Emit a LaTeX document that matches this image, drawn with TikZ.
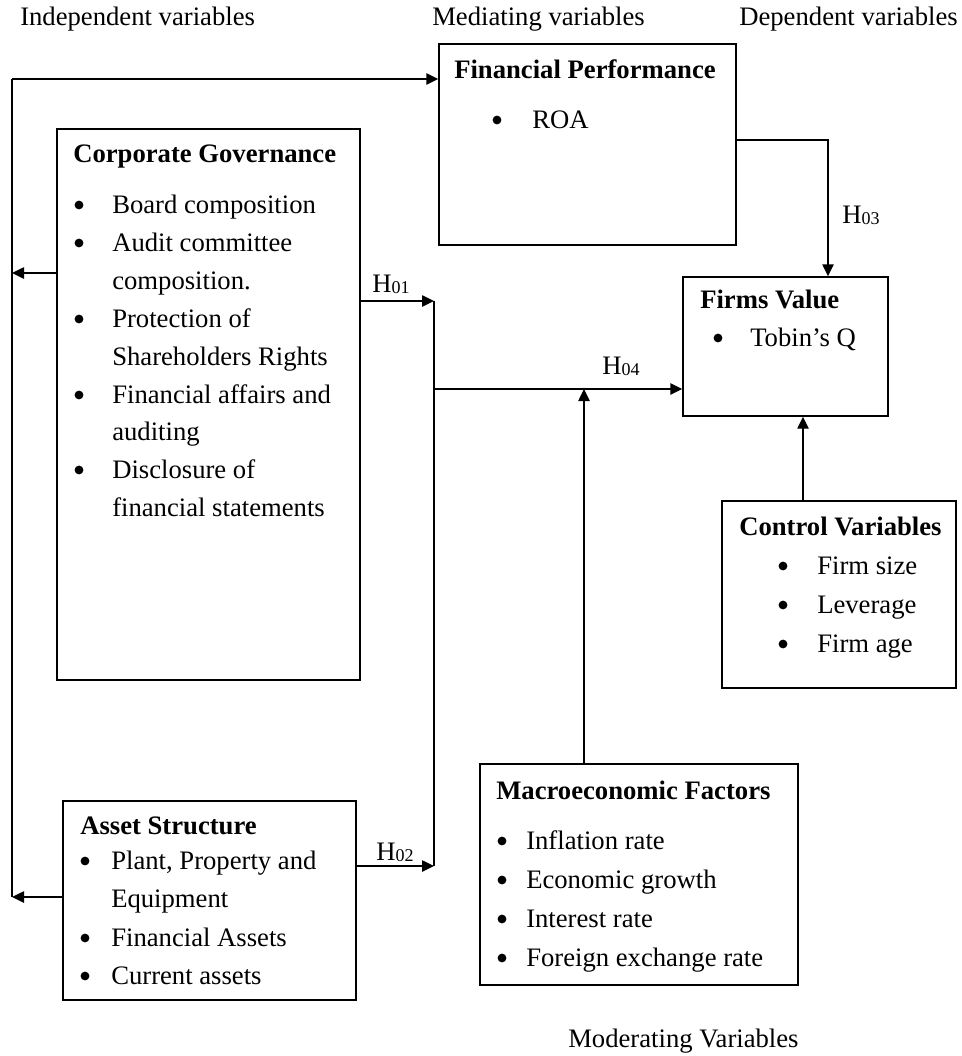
\documentclass[tikz,border=0pt]{standalone}
\usepackage{fontspec}
\setmainfont{Liberation Serif}
\usetikzlibrary{arrows.meta,fit}
\newcommand{\Hlab}[1]{H{\fontsize{13.5}{14}\selectfont\raisebox{-1pt}{#1}}}
\begin{document}
\begin{tikzpicture}[x=0.75pt,y=-0.75pt,
  font=\fontsize{20}{24}\selectfont,
  box/.style={draw, line width=1.1pt, inner sep=0pt, rectangle},
  txt/.style={anchor=base west, inner sep=0pt},
  ttl/.style={anchor=base west, inner sep=0pt, font=\fontsize{20}{24}\selectfont\bfseries},
  bul/.style={circle, fill, draw=none, inner sep=0pt, minimum size=6.6pt},
  conn/.style={line width=1.1pt},
  arr/.style={conn, -{Triangle[length=9pt,width=8.5pt]}}]
\useasboundingbox (0,0) rectangle (961,1056);

% boxes
\node[box, fit={(439,44) (736,245)}] (fp) {};
\node[box, fit={(57,129) (360,680)}] (cg) {};
\node[box, fit={(683,277) (888,416)}] (fv) {};
\node[box, fit={(722,501) (956,688)}] (cv) {};
\node[box, fit={(480,764) (798,985)}] (mf) {};
\node[box, fit={(63,801) (356,1000)}] (as) {};

% header labels
\node[txt] (lind) at (20,26) {Independent variables};
\node[txt] (lmed) at (432,26) {Mediating variables};
\node[anchor=base east, inner sep=0pt] (ldep) at (958,26) {Dependent variables};
\node[txt] (lmod) at (568,1047) {Moderating Variables};

% Financial performance
\node[ttl] (fpt) at (454,79) {Financial Performance};
\node[bul] (fpb1) at (497,120) {};
\node[txt] (fpi1) at (532,128) {ROA};

% Corporate governance
\node[ttl] (cgt) at (73,162) {Corporate Governance};
\node[bul] (cgb1) at (79,205) {};
\node[txt] (cgi1) at (112,213) {Board composition};
\node[bul] (cgb2) at (79,243) {};
\node[txt] (cgi2) at (112,251) {Audit committee};
\node[txt] (cgi2b) at (112,289) {composition.};
\node[bul] (cgb3) at (79,319) {};
\node[txt] (cgi3) at (112,327) {Protection of};
\node[txt] (cgi3b) at (112,365) {Shareholders Rights};
\node[bul] (cgb4) at (79,395) {};
\node[txt] (cgi4) at (112,403) {Financial affairs and};
\node[txt] (cgi4b) at (112,440) {auditing};
\node[bul] (cgb5) at (79,470) {};
\node[txt] (cgi5) at (112,478) {Disclosure of};
\node[txt] (cgi5b) at (112,516) {financial statements};

% Firms value
\node[ttl] (fvt) at (700,308) {Firms Value};
\node[bul] (fvb1) at (718,338) {};
\node[txt] (fvi1) at (750,346) {Tobin’s Q};

% Control variables
\node[ttl] (cvt) at (739,535) {Control Variables};
\node[bul] (cvb1) at (783,566) {};
\node[txt] (cvi1) at (817,574) {Firm size};
\node[bul] (cvb2) at (783,605) {};
\node[txt] (cvi2) at (817,613) {Leverage};
\node[bul] (cvb3) at (783,644) {};
\node[txt] (cvi3) at (817,652) {Firm age};

% Macroeconomic factors
\node[ttl] (mft) at (496,799) {Macroeconomic Factors};
\node[bul] (mfb1) at (502,841) {};
\node[txt] (mfi1) at (526,849) {Inflation rate};
\node[bul] (mfb2) at (502,880) {};
\node[txt] (mfi2) at (526,888) {Economic growth};
\node[bul] (mfb3) at (502,919) {};
\node[txt] (mfi3) at (526,927) {Interest rate};
\node[bul] (mfb4) at (502,958) {};
\node[txt] (mfi4) at (526,966) {Foreign exchange rate};

% Asset structure
\node[ttl] (ast) at (80,834) {Asset Structure};
\node[bul] (asb1) at (85,861) {};
\node[txt] (asi1) at (111,869) {Plant, Property and};
\node[txt] (asi1b) at (111,907) {Equipment};
\node[bul] (asb2) at (85,938) {};
\node[txt] (asi2) at (111,946) {Financial Assets};
\node[bul] (asb3) at (85,976) {};
\node[txt] (asi3) at (111,984) {Current assets};

% hypothesis labels
\node[txt] (h01) at (372,292) {\Hlab{01}};
\node[txt] (h02) at (376,860) {\Hlab{02}};
\node[txt] (h03) at (842,223) {\Hlab{03}};
\node[txt] (h04) at (602,374) {\Hlab{04}};

% connectors
\coordinate (L1) at (12,79);
\coordinate (Lcg) at (12,273);
\coordinate (L3) at (12,897);
\draw[conn] (L1) -- (L3);
\draw[arr] (L1) -- (fp.west |- L1);
\draw[arr] (cg.west |- Lcg) -- (Lcg);
\draw[arr] (as.west |- L3) -- (L3);

\coordinate (J1) at (434,301);
\coordinate (J2) at (434,866);
\coordinate (J3) at (434,389);
\draw[conn] (J1) -- (J2);
\draw[arr] (cg.east |- J1) -- (J1);
\draw[arr] (as.east |- J2) -- (J2);
\draw[arr] (J3) -- (fv.west |- J3);

\coordinate (M) at (584,389);
\draw[arr] (mf.north -| M) -- (M);

\coordinate (K) at (828,140);
\draw[arr] (fp.east |- K) -- (K) -- (fv.north -| K);

\coordinate (CX) at (803,450);
\draw[arr] (cv.north -| CX) -- (fv.south -| CX);
\end{tikzpicture}
\end{document}
